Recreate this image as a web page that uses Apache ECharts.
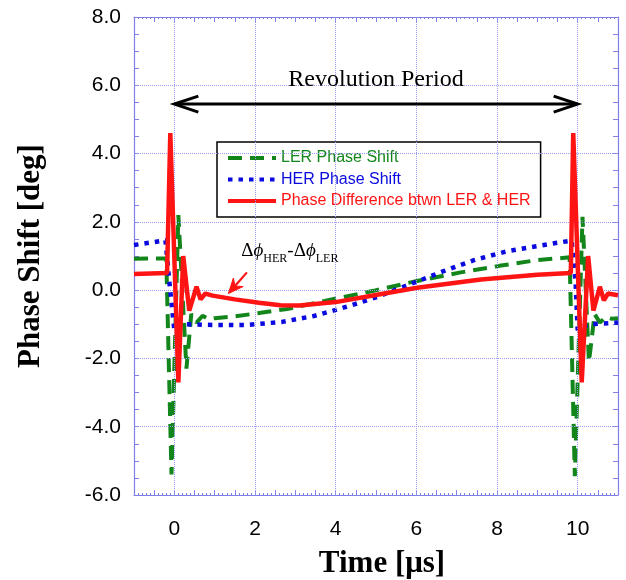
<!DOCTYPE html>
<html><head><meta charset="utf-8">
<script src="https://cdn.jsdelivr.net/npm/echarts@6/dist/echarts.min.js"></script>
<style>html,body{margin:0;padding:0;background:#fff}#c{width:626px;height:580px}</style>
</head><body><div id="c"></div>
<script>
// ---- data ----
const xLER = [-1, -0.2, -0.07, 0.1, 0.3, 0.42, 0.55, 0.7, 0.85, 1.0, 1.5, 2.1, 2.8, 3.87, 4.94, 6.02, 7.1, 8.1, 9.0, 9.8, 9.93, 10.12, 10.28, 10.42, 10.55, 10.7, 10.85, 11];
const yLER = [0.92, 0.93, -5.4, 2.2, -2.3, -0.7, -0.95, -0.75, -0.85, -0.82, -0.77, -0.67, -0.55, -0.28, -0.02, 0.27, 0.52, 0.72, 0.88, 0.96, -5.45, 2.15, -2.1, -0.7, -0.95, -0.78, -0.84, -0.82];

const xHER = [-1, -0.22, -0.12, 0.0, 0.1, 0.3, 1.0, 1.8, 2.67, 3.45, 4.0, 4.53, 5.03, 5.57, 6.1, 6.64, 7.43, 8.25, 9.1, 9.62, 9.85, 9.95, 10.0, 10.1, 10.3, 11];
const yHER = [1.32, 1.46, 0.2, -1.17, -1.05, -1.0, -1.02, -1.02, -0.93, -0.76, -0.58, -0.39, -0.2, 0.05, 0.29, 0.54, 0.88, 1.14, 1.31, 1.41, 1.45, 0.2, -1.17, -1.07, -1.0, -0.95];

const xDiff = [-1, -0.18, -0.1, 0.1, 0.22, 0.37, 0.55, 0.65, 0.77, 0.95, 1.5, 2.1, 2.63, 3.1, 4.0, 5.1, 6.02, 7.6, 9.0, 9.83, 9.89, 10.1, 10.26, 10.39, 10.55, 10.65, 10.75, 11];
const yDiff = [0.47, 0.5, 4.6, -2.7, 1.0, -0.6, 0.1, -0.27, -0.1, -0.16, -0.27, -0.37, -0.44, -0.45, -0.35, -0.12, 0.07, 0.31, 0.45, 0.5, 4.6, -2.7, 1.0, -0.6, 0.1, -0.3, -0.1, -0.15];

const seriesNames = ['LER Phase Shift', 'HER Phase Shift', 'Phase Difference btwn LER & HER'];
const xTickLabels = [0, 2, 4, 6, 8, 10];
const yTickLabels = [-6, -4, -2, 0, 2, 4, 6, 8];
const xGridValues = [0, 2, 4, 6, 8, 10];
const yGridValues = [-4, -2, 0, 2, 4, 6];
const xRange = [-1, 11];
const yRange = [-6, 8];

// annotations (data coordinates)
const periodArrow = {x0: 0, x1: 10, y: 5.45};
const periodLabel = {text: 'Revolution Period', x: 5, y: 6.15};
const deltaLabel = {x: 1.66, y: 1.14};
const deltaArrow = {tail: [1.8, 0.52], tip: [1.34, -0.1]};

// ---- styles ----
const axisColor = '#7f7fe8';
const gridColor = '#9a9af0';
const cGreen = '#12861a';
const cBlue = '#0a0ae0';
const cRed = '#ff1414';

const zip = (xs, ys) => xs.map((x, i) => [x, ys[i]]);
const near = (v, list) => list.some(t => Math.abs(t - v) < 1e-6);

const chart = echarts.init(document.getElementById('c'), null, {renderer: 'canvas'});

function mkX(pos, main) {
  return {
    type: 'value', position: pos, min: xRange[0], max: xRange[1], interval: 0.5,
    name: main ? 'Time [μs]' : '', nameLocation: 'middle', nameGap: 53,
    nameTextStyle: {fontFamily: 'Liberation Serif', fontWeight: 'bold', fontSize: 31, color: '#000', padding: [0, 0, 0, 12]},
    axisLine: {show: true, onZero: false, lineStyle: {color: axisColor, width: 1.2}},
    axisTick: {show: true, inside: true, length: 5, lineStyle: {color: axisColor}},
    minorTick: {show: true, splitNumber: 5, length: 2, lineStyle: {color: axisColor}},
    axisLabel: {show: main, margin: 24, fontSize: 21, fontFamily: 'Liberation Sans', color: '#000',
      formatter: v => near(v, xTickLabels) ? String(Math.round(v)) : ''},
    splitLine: {show: false}
  };
}
function mkY(pos, main) {
  return {
    type: 'value', position: pos, min: yRange[0], max: yRange[1], interval: 0.5,
    name: main ? 'Phase Shift [deg]' : '', nameLocation: 'middle', nameGap: 88, nameRotate: 90,
    nameTextStyle: {fontFamily: 'Liberation Serif', fontWeight: 'bold', fontSize: 31, color: '#000'},
    axisLine: {show: true, onZero: false, lineStyle: {color: axisColor, width: 1.2}},
    axisTick: {show: true, inside: true, length: 5, lineStyle: {color: axisColor}},
    axisLabel: {show: main, margin: 13, fontSize: 21, fontFamily: 'Liberation Sans', color: '#000',
      formatter: v => near(v, yTickLabels) ? v.toFixed(1) : ''},
    splitLine: {show: false}
  };
}

const option = {
  animation: false,
  backgroundColor: '#fff',
  grid: {left: 134, right: 8, top: 17, bottom: 85, containLabel: false, outerBoundsMode: 'none'},
  xAxis: [mkX('bottom', true), mkX('top', false)],
  yAxis: [mkY('left', true), mkY('right', false)],
  legend: {
    orient: 'vertical', left: 217, top: 142,
    data: [
      {name: seriesNames[0], textStyle: {color: cGreen}},
      {name: seriesNames[1], textStyle: {color: cBlue}},
      {name: seriesNames[2], textStyle: {color: cRed}}
    ],
    itemWidth: 48, itemHeight: 16, itemGap: 5.5,
    padding: [8, 10, 8, 9],
    backgroundColor: '#fff', borderColor: '#000', borderWidth: 1.5, borderRadius: 0,
    textStyle: {fontSize: 16, fontFamily: 'Liberation Sans'},
    itemStyle: {opacity: 0},
    lineStyle: {width: 4},
    selectedMode: false
  },
  series: [
    {
      name: 'grid', type: 'line', data: [], silent: true, z: 1,
      markLine: {
        silent: true, symbol: ['none', 'none'], label: {show: false}, animation: false,
        lineStyle: {color: gridColor, type: 'dotted', width: 1},
        emphasis: {disabled: true},
        data: [...xGridValues.map(v => ({xAxis: v})), ...yGridValues.map(v => ({yAxis: v}))]
      }
    },
    {
      name: seriesNames[0], type: 'line', data: zip(xLER, yLER), showSymbol: false, symbol: 'none', z: 3,
      lineStyle: {color: cGreen, width: 4, type: [14, 8]}, itemStyle: {color: cGreen}
    },
    {
      name: seriesNames[1], type: 'line', data: zip(xHER, yHER), showSymbol: false, symbol: 'none', z: 4,
      lineStyle: {color: cBlue, width: 4.5, type: [4.5, 6]}, itemStyle: {color: cBlue}
    },
    {
      name: seriesNames[2], type: 'line', data: zip(xDiff, yDiff), showSymbol: false, symbol: 'none', z: 5,
      lineStyle: {color: cRed, width: 4.5}, itemStyle: {color: cRed}
    }
  ]
};
chart.setOption(option);

const P = pt => chart.convertToPixel({gridIndex: 0}, pt);
const a0 = P([periodArrow.x0, periodArrow.y]);
const a1 = P([periodArrow.x1, periodArrow.y]);
const hl = 24, hw = 8;
const lp = P([periodLabel.x, periodLabel.y]);
const dp = P([deltaLabel.x, deltaLabel.y]);
const tail = P(deltaArrow.tail), tip = P(deltaArrow.tip);
const dx = tip[0] - tail[0], dy = tip[1] - tail[1];
const L = Math.hypot(dx, dy);
const ux = dx / L, uy = dy / L, nx = -uy, ny = ux;
const headL = 15, headW = 6.5, notch = 10;
const base = [tip[0] - notch * ux, tip[1] - notch * uy];

chart.setOption({
  graphic: [
    {type: 'line', z: 10, shape: {x1: a0[0] + 1, y1: a0[1], x2: a1[0] - 1, y2: a1[1]}, style: {stroke: '#000', lineWidth: 3}},
    {type: 'polyline', z: 10, shape: {points: [[a0[0] + hl, a0[1] - hw], [a0[0], a0[1]], [a0[0] + hl, a0[1] + hw]]}, style: {stroke: '#000', lineWidth: 3, fill: null}},
    {type: 'polyline', z: 10, shape: {points: [[a1[0] - hl, a1[1] - hw], [a1[0], a1[1]], [a1[0] - hl, a1[1] + hw]]}, style: {stroke: '#000', lineWidth: 3, fill: null}},
    {type: 'text', z: 10, x: lp[0], y: lp[1], style: {text: periodLabel.text, fontFamily: 'Liberation Serif', fontSize: 24, fill: '#000', align: 'center', verticalAlign: 'middle', textAlign: 'center', textVerticalAlign: 'middle'}},
    {type: 'text', z: 10, x: dp[0], y: dp[1], style: {
      text: '{d|Δ}{p|ϕ}{s|HER}{d|-Δ}{p|ϕ}{s|LER}',
      align: 'left', verticalAlign: 'middle', textAlign: 'left', textVerticalAlign: 'middle',
      rich: {
        d: {fontFamily: 'Liberation Serif', fontSize: 19, lineHeight: 28, fill: '#000', color: '#000'},
        p: {fontFamily: 'Liberation Serif', fontStyle: 'italic', fontSize: 19, lineHeight: 28, fill: '#000', color: '#000'},
        s: {fontFamily: 'Liberation Serif', fontSize: 12, lineHeight: 12, verticalAlign: 'bottom', fill: '#000', color: '#000'}
      }
    }},
    {type: 'line', z: 10, shape: {x1: tail[0], y1: tail[1], x2: base[0], y2: base[1]}, style: {stroke: cRed, lineWidth: 2.2}},
    {type: 'polygon', z: 10, shape: {points: [
      [tip[0], tip[1]],
      [tip[0] - headL * ux + headW * nx, tip[1] - headL * uy + headW * ny],
      [base[0], base[1]],
      [tip[0] - headL * ux - headW * nx, tip[1] - headL * uy - headW * ny]
    ]}, style: {fill: cRed, stroke: cRed, lineWidth: 1}}
  ]
});
</script>
</body></html>
